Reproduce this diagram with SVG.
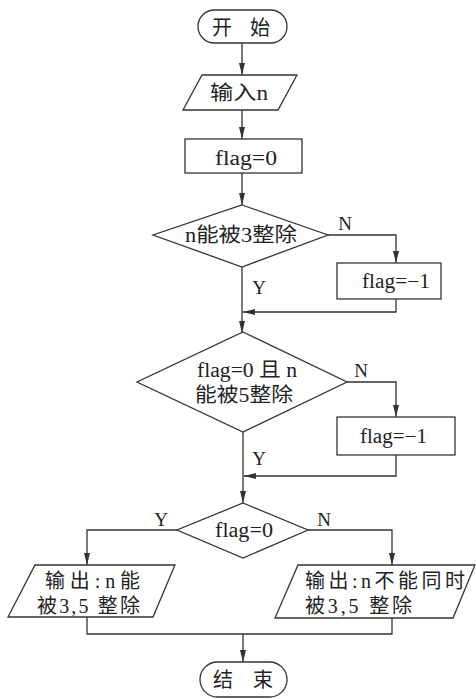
<svg xmlns="http://www.w3.org/2000/svg" width="476" height="699" viewBox="0 0 476 699">
<defs>
<marker id="ah" viewBox="0 0 12 6" refX="12" refY="3" markerWidth="12" markerHeight="6" markerUnits="userSpaceOnUse" orient="auto">
<path d="M0,0 L12,3 L0,6 Z" fill="#333"/>
</marker>
</defs>
<style>
.s{fill:#fff;stroke:#333;stroke-width:1.3}
.c{fill:none;stroke:#333;stroke-width:1.3}
.a{marker-end:url(#ah)}
text{font-family:"Liberation Serif","Noto Sans CJK SC",serif;font-size:20px;fill:#222}
.m{text-anchor:middle}
.lb{font-size:19px}
</style>
<rect width="476" height="699" fill="#fff"/>
<g id="connectors">
<path class="c a" d="M242,43 V75"/>
<path class="c a" d="M242,110 V139"/>
<path class="c a" d="M242,173 V205"/>
<path class="c a" d="M328,235 H396 V263"/>
<path class="c a" d="M242,267 V333"/>
<path class="c a" d="M396,299 V312 H243"/>
<path class="c a" d="M347,382 H396 V417"/>
<path class="c a" d="M243,432 V503"/>
<path class="c a" d="M396,455 V476 H244"/>
<path class="c a" d="M177,530 H87 V565"/>
<path class="c a" d="M308,530 H392 V565"/>
<path class="c" d="M87,617 V634 H392 V618"/>
<path class="c a" d="M243,634 V662"/>
<text class="lb m" x="345" y="230">N</text>
<text class="lb m" x="259" y="294">Y</text>
<text class="lb m" x="361" y="377">N</text>
<text class="lb m" x="259" y="465">Y</text>
<text class="lb m" x="161" y="526">Y</text>
<text class="lb m" x="324" y="526">N</text>
</g>
<g id="start">
<rect class="s" x="198" y="10" width="89" height="33" rx="16.5"/>
<text x="212" y="35">开</text>
<text x="250" y="35">始</text>
</g>
<g id="input">
<path class="s" d="M202,75 H297 L278,110 H183 Z"/>
<text x="210" y="100" textLength="58" lengthAdjust="spacingAndGlyphs">输入n</text>
</g>
<g id="init">
<rect class="s" x="185" y="139" width="117" height="34"/>
<text x="215" y="165" textLength="62" lengthAdjust="spacingAndGlyphs">flag=0</text>
</g>
<g id="dec1">
<path class="s" d="M242,205 L328,235 L242,267 L153,235 Z"/>
<text x="185" y="242" textLength="112" lengthAdjust="spacingAndGlyphs">n能被3整除</text>
</g>
<g id="set1">
<rect class="s" x="337" y="263" width="104" height="36"/>
<text x="362" y="288" textLength="68" lengthAdjust="spacingAndGlyphs">flag=−1</text>
</g>
<g id="dec2">
<path class="s" d="M243,332 L347,382 L243,432 L137,382 Z"/>
<text x="197" y="377" textLength="100" lengthAdjust="spacingAndGlyphs">flag=0 且 n</text>
<text x="195" y="402" textLength="98" lengthAdjust="spacingAndGlyphs">能被5整除</text>
</g>
<g id="set2">
<rect class="s" x="337" y="417" width="118" height="38"/>
<text x="360" y="443" textLength="67" lengthAdjust="spacingAndGlyphs">flag=−1</text>
</g>
<g id="dec3">
<path class="s" d="M243,503 L308,530 L243,558 L177,530 Z"/>
<text x="215" y="537" textLength="58" lengthAdjust="spacingAndGlyphs">flag=0</text>
</g>
<g id="out1">
<path class="s" d="M35,565 H175 L153,617 H8 Z"/>
<text x="45" y="588" textLength="95" lengthAdjust="spacing">输出:n能</text>
<text x="37" y="613" textLength="103" lengthAdjust="spacing">被3,5 整除</text>
</g>
<g id="out2">
<path class="s" d="M298,565 H475 L453,618 H275 Z"/>
<text x="305" y="588" textLength="160" lengthAdjust="spacing">输出:n不能同时</text>
<text x="305" y="613" textLength="107" lengthAdjust="spacing">被3,5 整除</text>
</g>
<g id="end">
<rect class="s" x="200" y="662" width="87" height="35" rx="17.5"/>
<text x="213" y="687">结</text>
<text x="253" y="687">束</text>
</g>
</svg>
